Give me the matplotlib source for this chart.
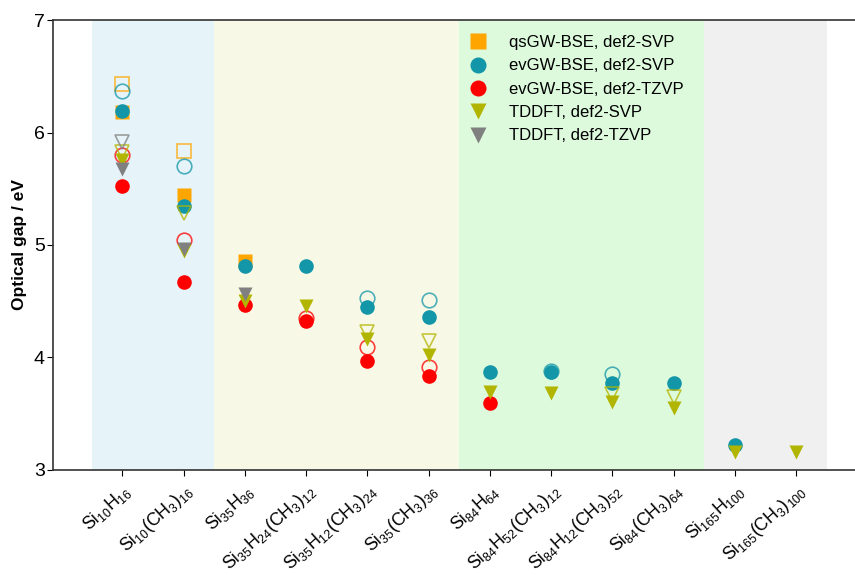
import numpy as np
import matplotlib
matplotlib.use("Agg")
import matplotlib.pyplot as plt

plt.rcParams["font.family"] = ["Liberation Sans", "DejaVu Sans"]
plt.rcParams["mathtext.fontset"] = "custom"
plt.rcParams["mathtext.it"] = "Liberation Sans"
plt.rcParams["mathtext.rm"] = "Liberation Sans"

# molecules (x axis)
molecules = [r"$Si_{10}H_{16}$", r"$Si_{10}(CH_3)_{16}$", r"$Si_{35}H_{36}$",
             r"$Si_{35}H_{24}(CH_3)_{12}$", r"$Si_{35}H_{12}(CH_3)_{24}$",
             r"$Si_{35}(CH_3)_{36}$", r"$Si_{84}H_{64}$", r"$Si_{84}H_{52}(CH_3)_{12}$",
             r"$Si_{84}H_{12}(CH_3)_{52}$", r"$Si_{84}(CH_3)_{64}$",
             r"$Si_{165}H_{100}$", r"$Si_{165}(CH_3)_{100}$"]

nan = np.nan
# filled symbols
qsgw_svp = [6.18, 5.44, 4.86, nan, nan, nan, nan, nan, nan, nan, nan, nan]
evgw_svp = [6.19, 5.35, 4.81, 4.81, 4.45, 4.36, 3.87, 3.87, 3.77, 3.77, 3.22, nan]
evgw_tzvp = [5.52, 4.67, 4.47, 4.32, 3.97, 3.83, 3.59, nan, nan, nan, nan, nan]
tddft_svp = [5.76, 4.95, 4.50, 4.46, 4.16, 4.02, 3.69, 3.68, 3.60, 3.55, 3.16, 3.16]
tddft_tzvp = [5.68, 4.96, 4.56, nan, nan, nan, nan, nan, nan, nan, nan, nan]

# open symbols
qsgw_svp_open = [6.43, 5.84, nan, nan, nan, nan, nan, nan, nan, nan, nan, nan]
evgw_svp_open = [6.37, 5.70, nan, nan, 4.53, 4.51, nan, 3.88, 3.85, nan, nan, nan]
evgw_tzvp_open = [5.80, 5.04, nan, 4.35, 4.09, 3.91, nan, nan, nan, nan, nan, nan]
tddft_svp_open = [5.83, 5.28, nan, nan, 4.23, 4.15, nan, nan, 3.67, 3.65, nan, nan]
tddft_tzvp_open = [5.92, nan, nan, nan, nan, nan, nan, nan, nan, nan, nan, nan]

# background groups: (start, end, colour)
groups = [(-0.5, 1.5, "#e6f3f8"), (1.5, 5.5, "#f8f8e6"),
          (5.5, 9.5, "#ddfadd"), (9.5, 11.5, "#f0f0f0")]

c_orange = "#ffa500"
c_teal = "#1296a8"
c_red = "#ff0000"
c_olive = "#b2b500"
c_grey = "#808080"

x = np.arange(len(molecules))

fig = plt.figure(figsize=(8.55, 5.75), dpi=100)
ax = fig.add_axes([0.062, 0.183, 0.938, 0.782])

for x0, x1, col in groups:
    ax.axvspan(x0, x1, color=col, zorder=0, lw=0)

series = [
    (qsgw_svp_open, qsgw_svp, "s", c_orange, "qsGW-BSE, def2-SVP"),
    (evgw_svp_open, evgw_svp, "o", c_teal, "evGW-BSE, def2-SVP"),
    (evgw_tzvp_open, evgw_tzvp, "o", c_red, "evGW-BSE, def2-TZVP"),
    (tddft_svp_open, tddft_svp, "v", c_olive, "TDDFT, def2-SVP"),
    (tddft_tzvp_open, tddft_tzvp, "v", c_grey, "TDDFT, def2-TZVP"),
]

for opn, fld, mk, col, lab in series:
    ax.plot(x, opn, ls="none", marker=mk, ms=10.5, mfc="none", mec=col,
            mew=1.2, alpha=0.75, zorder=3)
    ax.plot(x, fld, ls="none", marker=mk, ms=10.5, color=col, mec="none",
            label=lab, zorder=3)

ax.set_xlim(-1.13, 11.96)
ax.set_ylim(3, 7)
ax.set_yticks([3, 4, 5, 6, 7])
ax.set_xticks(x)
ax.set_xticklabels(molecules, rotation=42, ha="right", rotation_mode="anchor",
                   fontsize=12.8)
ax.tick_params(axis="y", labelsize=14, direction="out", length=4, pad=2)
ax.tick_params(axis="x", direction="out", length=4, pad=4)
ax.set_ylabel("Optical gap / eV", fontsize=12.5, fontweight="bold", labelpad=5)

ax.spines["right"].set_visible(False)
for s in ["left", "top", "bottom"]:
    ax.spines[s].set_linewidth(1.2)
    ax.spines[s].set_color("#333333")

ax.legend(loc="upper left", bbox_to_anchor=(0.49, 1.0), frameon=False,
          fontsize=12, labelspacing=0.5, handletextpad=0.9, markerscale=1.1)

fig.savefig("out.png", dpi=100)
